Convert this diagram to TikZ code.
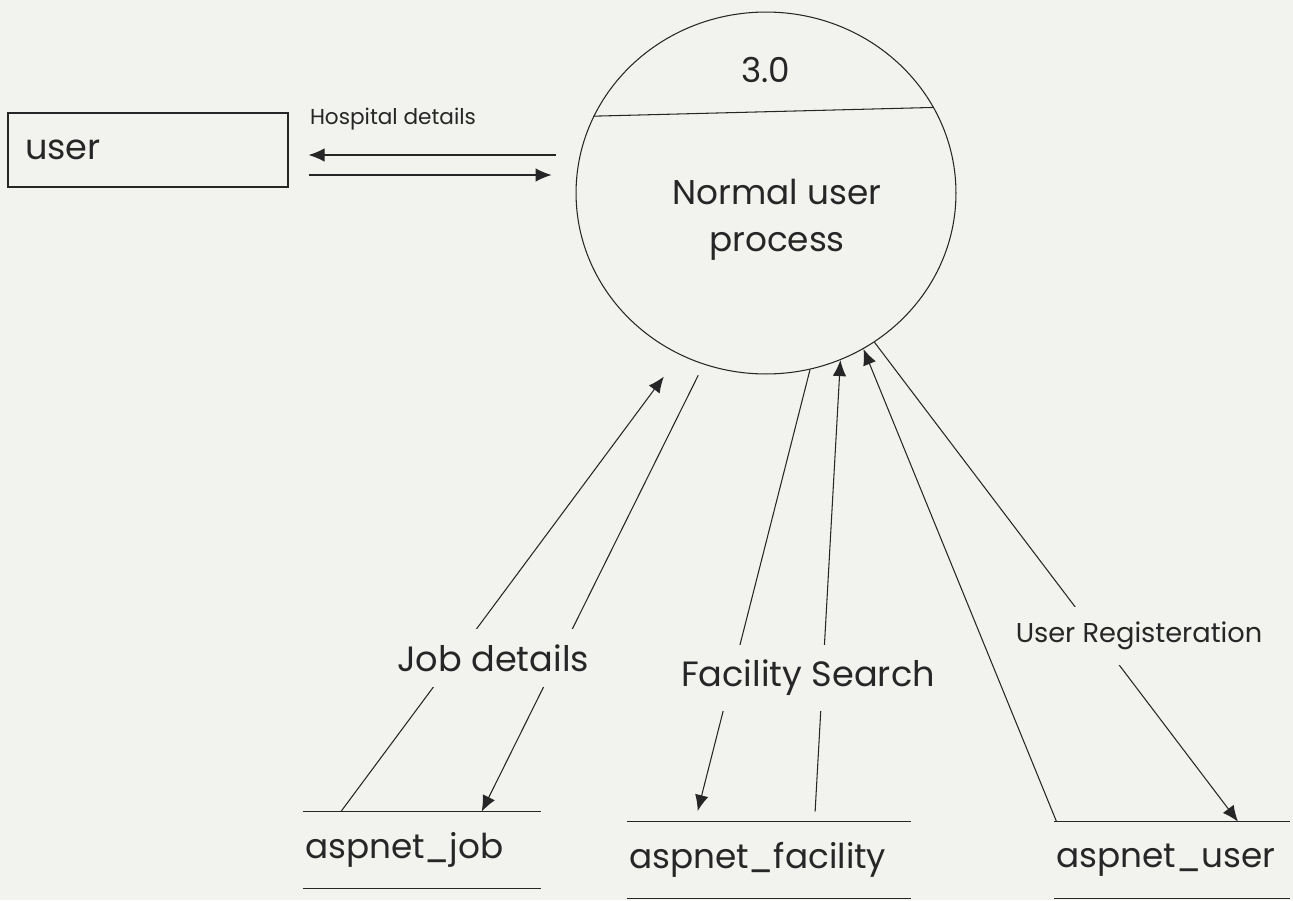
\documentclass[tikz,border=0pt]{standalone}
\usepackage{fontspec}
\setmainfont{Poppins}
\usetikzlibrary{arrows.meta,calc,shapes.geometric}
\definecolor{paper}{RGB}{242,243,239}
\definecolor{ink}{RGB}{38,38,38}
\tikzset{>={Latex[length=0.32cm,width=0.27cm]}}
\tikzstyle{process}=[ellipse,draw=ink,line width=0.6pt,minimum width=7.6cm,minimum height=7.24cm,inner sep=0pt]
\tikzstyle{entity}=[rectangle,draw=ink,line width=0.7pt,minimum height=1.48cm,inner xsep=0.34cm,text width=4.92cm,align=left,text=ink,font=\fontsize{20pt}{24pt}\selectfont]
\tikzstyle{store}=[rectangle,minimum height=1.52cm,inner xsep=0.04cm,align=left,text=ink,font=\fontsize{19.5pt}{23pt}\selectfont]
\tikzstyle{bigtext}=[text=ink,font=\fontsize{19.5pt}{27pt}\selectfont]
\tikzstyle{flowlabel}=[fill=paper,inner xsep=0.3cm,inner ysep=0.3cm,text=ink,font=\fontsize{20pt}{24pt}\selectfont]
\tikzstyle{flow}=[->,draw=ink,line width=0.6pt]
\tikzstyle{edge}=[draw=ink,line width=0.7pt]

\begin{document}
\begin{tikzpicture}[x=0.02cm,y=-0.02cm]
% scanned page
\fill[paper] (0,0) rectangle (1293,900);
\useasboundingbox (0,0) rectangle (1293,900);

% process 3.0
\node[process] (proc) at (766,193) {};
\draw[edge,line width=0.6pt] (proc.156) -- (proc.27);
\node[bigtext] (pid) at (766,70) {3.0};
\node[bigtext,align=center] (pname) at (777,220) {Normal user\\process};

% external entity
\node[entity] (user) at (148,150) {user};
\draw[flow] ($(proc.west |- user.east)+(-0.4cm,-0.1cm)$) -- ($(user.east)+(0.4cm,-0.1cm)$);
\draw[flow] ($(user.east)+(0.4cm,-0.5cm)$) -- ($(proc.west |- user.east)+(-0.48cm,-0.5cm)$);
\node[text=ink,font=\fontsize{12.3pt}{14pt}\selectfont] (hosp) at (393,119) {Hospital details};

% data stores
\node[store,text width=4.68cm] (job) at (422,850) {aspnet\_job};
\node[store,text width=5.6cm] (fac) at (769,860) {aspnet\_facility};
\node[store,text width=4.62cm] (usr) at (1172,860) {aspnet\_user};
\foreach \s in {job,fac,usr} {
	\draw[edge] (\s.north west) -- (\s.north east);
	\draw[edge] (\s.south west) -- (\s.south east);
};

% flows to and from the stores
\draw[flow,shorten >=0.54cm] ($(job.north west)!0.16!(job.north east)$) -- (proc.242);
\draw[flow,shorten <=0.24cm] (proc.250) -- ($(job.north west)!0.75!(job.north east)$);
\draw[flow,shorten >=0.22cm] (proc.284) -- ($(fac.north west)!0.24!(fac.north east)$);
\draw[flow,shorten <=0.2cm] ($(fac.north west)!0.66!(fac.north east)$) -- (proc.294);
\draw[flow] ($(usr.north west)!0.01!(usr.north east)$) -- (proc.302);
\draw[flow] (proc.306) -- ($(usr.north west)!0.78!(usr.north east)$);

% labels sit on the lines
\node[flowlabel] (jobl) at (493,658) {Job details};
\node[flowlabel] (facl) at (808,678) {Facility Search};
\node[flowlabel,font=\fontsize{15.5pt}{18pt}\selectfont] (regl) at (1139,636) {User Registeration};

\end{tikzpicture}
\end{document}
